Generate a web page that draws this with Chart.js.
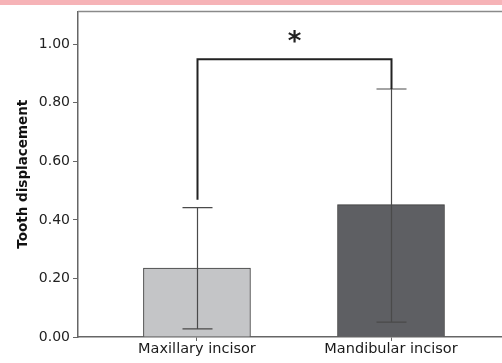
<!DOCTYPE html>
<html>
<head>
<meta charset="utf-8">
<script src="https://cdn.jsdelivr.net/npm/chart.js@4.4.1/dist/chart.umd.min.js"></script>
<style>
  html, body { margin: 0; padding: 0; background: #fff; }
  #wrap { position: relative; width: 502px; height: 363px; }
  #band { position: absolute; left: 0; top: 0; width: 502px; height: 5px; background: #f6b3b7; }
  canvas { position: absolute; left: 0; top: 0; }
</style>
</head>
<body>
<div id="wrap">
  <canvas id="chart" width="502" height="363"></canvas>
  <div id="band"></div>
</div>
<script>
// Group labels and their positions on the x axis
const categories = ['Maxillary incisor', 'Mandibular incisor'];
const positions = [1, 2];

// Mean tooth displacement per group, with error bar limits
const means = [0.235, 0.452];
const errLow = [0.028, 0.051];
const errHigh = [0.442, 0.847];

// Y axis tick values
const yTicks = [0, 0.2, 0.4, 0.6, 0.8, 1.0];

// Significance bracket: height, and where each leg ends
const bracketTop = 0.949;
const bracketEnds = [0.469, 0.847];
const sigLabel = '*';

const barFills = ['#c4c5c7', '#5e5f63'];
const axisColor = '#666666';

const annotate = {
  id: 'annotate',
  afterDatasetsDraw(chart) {
    const { ctx, chartArea, scales: { x, y } } = chart;
    ctx.save();

    // top frame line of the plot box
    ctx.strokeStyle = '#8a8a8a';
    ctx.lineWidth = 1.5;
    ctx.beginPath();
    ctx.moveTo(chartArea.left, chartArea.top);
    ctx.lineTo(chartArea.right, chartArea.top);
    ctx.stroke();

    // error bars with caps
    const capHalf = 15;
    ctx.strokeStyle = '#4a4a4a';
    ctx.lineWidth = 1.2;
    positions.forEach((p, i) => {
      const px = Math.round(x.getPixelForValue(p)) + 0.5;
      const yl = y.getPixelForValue(errLow[i]);
      const yh = y.getPixelForValue(errHigh[i]);
      ctx.beginPath();
      ctx.moveTo(px, yl); ctx.lineTo(px, yh);
      ctx.moveTo(px - capHalf, yl); ctx.lineTo(px + capHalf, yl);
      ctx.moveTo(px - capHalf, yh); ctx.lineTo(px + capHalf, yh);
      ctx.stroke();
    });

    // significance bracket
    const x1 = Math.round(x.getPixelForValue(positions[0])) + 0.5;
    const x2 = Math.round(x.getPixelForValue(positions[1])) + 0.5;
    const yb = y.getPixelForValue(bracketTop);
    ctx.strokeStyle = '#222';
    ctx.lineWidth = 2;
    ctx.beginPath();
    ctx.moveTo(x1, y.getPixelForValue(bracketEnds[0]));
    ctx.lineTo(x1, yb);
    ctx.lineTo(x2, yb);
    ctx.lineTo(x2, y.getPixelForValue(bracketEnds[1]));
    ctx.stroke();

    ctx.fillStyle = '#222';
    ctx.font = 'bold 26px "DejaVu Sans"';
    ctx.textAlign = 'center';
    ctx.textBaseline = 'middle';
    ctx.fillText(sigLabel, (x1 + x2) / 2, yb - 16);
    ctx.restore();
  }
};

new Chart(document.getElementById('chart'), {
  type: 'bar',
  data: {
    datasets: [{
      data: positions.map((p, i) => ({ x: p, y: means[i] })),
      backgroundColor: barFills,
      borderColor: '#3a3a3a',
      borderWidth: 1,
      borderSkipped: 'bottom',
      barThickness: 107
    }]
  },
  options: {
    responsive: false,
    animation: false,
    layout: { padding: { top: 10, left: 0, right: 0, bottom: 0 } },
    plugins: { legend: { display: false }, tooltip: { enabled: false } },
    scales: {
      x: {
        type: 'linear',
        offset: false,
        min: 0.387,
        max: 2.572,
        afterBuildTicks(s) { s.ticks = positions.map(v => ({ value: v })); },
        afterFit(s) { s.height = 26; },
        grid: { offset: false, drawOnChartArea: false, drawTicks: true, tickLength: 4, color: axisColor },
        border: { color: axisColor, width: 1.5 },
        ticks: {
          color: '#1a1a1a',
          padding: 0,
          font: { family: '"DejaVu Sans"', size: 14.5 },
          callback: v => categories[positions.indexOf(v)] || ''
        }
      },
      y: {
        min: 0,
        max: 1.112,
        afterBuildTicks(s) { s.ticks = yTicks.map(v => ({ value: v })); },
        afterFit(s) { s.width = 78; },
        grid: { drawOnChartArea: false, drawTicks: true, tickLength: 5, color: axisColor },
        border: { color: axisColor, width: 1.5 },
        ticks: {
          color: '#222',
          padding: 3,
          font: { family: '"DejaVu Sans"', size: 14 },
          callback: v => v.toFixed(2)
        },
        title: {
          display: true,
          text: 'Tooth displacement',
          color: '#111',
          padding: { top: 15, bottom: 0 },
          font: { family: '"DejaVu Sans"', size: 13.5, weight: 'bold' }
        }
      }
    }
  },
  plugins: [annotate]
});
</script>
</body>
</html>
